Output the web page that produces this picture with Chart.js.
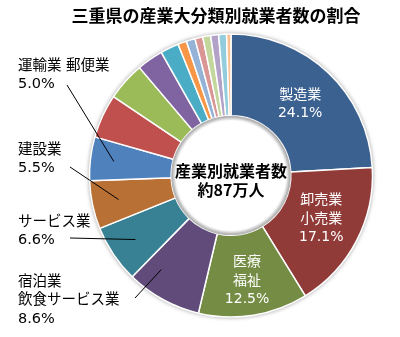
<!DOCTYPE html>
<html lang="ja">
<head>
<meta charset="utf-8">
<title>三重県の産業大分類別就業者数の割合</title>
<script src="https://cdn.jsdelivr.net/npm/chart.js@4"></script>
<style>
  html, body { margin: 0; padding: 0; background: #fff; }
  #wrap { width: 400px; height: 337px; position: relative; }
</style>
</head>
<body>
<div id="wrap"><canvas id="chart-industry" width="400" height="337"></canvas></div>
<script>
// 産業大分類（構成比の大きい順）
const industries = [
  '製造業', '卸売業，小売業', '医療，福祉', '宿泊業，飲食サービス業',
  'サービス業（他に分類されないもの）', '建設業', '運輸業，郵便業',
  '教育，学習支援業', '農業，林業', '生活関連サービス業，娯楽業', '公務',
  '学術研究，専門・技術サービス業', '分類不能の産業', '金融業，保険業',
  '不動産業，物品賃貸業', '複合サービス事業', '情報通信業', '電気・ガス・熱供給・水道業'
];
// 構成比（%）
const shares = [24.1, 17.1, 12.5, 8.6, 6.6, 5.5, 5.0, 5.0, 4.4, 3.0, 2.1, 1.0, 1.0, 0.9, 0.9, 0.9, 0.9, 0.5];
// グラフ上に表示する名称（改行区切り）
const shortNames = ['製造業', '卸売業\n小売業', '医療\n福祉', '宿泊業\n飲食サービス業', 'サービス業', '建設業', '運輸業 郵便業'];

const chartTitle = '三重県の産業大分類別就業者数の割合';
const centerText = ['産業別就業者数', '約87万人'];

// Office 標準テーマ：濃色 → 標準 → 淡色 の順
const palette = [
  '#3B6190', '#913B39', '#748C43', '#604B7A', '#388194', '#B97035',
  '#4F81BD', '#C0504D', '#9BBB59', '#8064A2', '#4BACC6', '#F79646',
  '#95B3D7', '#D99694', '#C3D69B', '#B3A2C7', '#93CDDD', '#FAC090'
];

const FONT = '"Noto Sans CJK JP", "Noto Sans", sans-serif';
// 数字は幅の広い欧文書体で
const LABEL_FONT = '"DejaVu Sans", "Noto Sans CJK JP", sans-serif';

// 扇形内のラベル（扇形の中心からのずれ）
const insideLabels = [
  { index: 0, dx: 0, dy: 2 },
  { index: 1, dx: 1, dy: -3 },
  { index: 2, dx: 0, dy: 6 }
];
// 扇形外のラベル（引き出し線つき）
const outsideLabels = [
  { index: 3, x: 18, y: 282, from: [135, 298], r: 117, t: 0.75 },
  { index: 4, x: 18, y: 222, from: [70, 238], r: 115, t: 0.5 },
  { index: 5, x: 18, y: 150, from: [70, 167], r: 115, t: 0.5 },
  { index: 6, x: 18, y: 66, from: [67, 85], r: 118, t: 0.5 }
];

function pct(v) { return v.toFixed(1) + '%'; }

// 外周と穴のふちの影
const ringShade = {
  id: 'ringShade',
  beforeDatasetsDraw(chart) {
    const arc = chart.getDatasetMeta(0).data[0];
    if (!arc) return;
    const { x, y, outerRadius, innerRadius } = arc.getProps(['x', 'y', 'outerRadius', 'innerRadius'], true);
    const ctx = chart.ctx;
    ctx.save();
    ctx.shadowColor = 'rgba(0,0,0,0.4)';
    ctx.shadowBlur = 4;
    ctx.fillStyle = '#c8c8c8';
    ctx.beginPath();
    ctx.arc(x, y, outerRadius + 0.5, 0, Math.PI * 2);
    ctx.arc(x, y, innerRadius - 0.5, 0, Math.PI * 2, true);
    ctx.fill();
    ctx.restore();
  },
  afterDatasetsDraw(chart) {
    const arc = chart.getDatasetMeta(0).data[0];
    if (!arc) return;
    const { x, y, innerRadius } = arc.getProps(['x', 'y', 'innerRadius'], true);
    const ctx = chart.ctx;
    ctx.save();
    ctx.beginPath();
    ctx.arc(x, y, innerRadius, 0, Math.PI * 2);
    ctx.clip();
    const g = ctx.createRadialGradient(x, y, innerRadius - 5, x, y, innerRadius);
    g.addColorStop(0, 'rgba(160,160,160,0)');
    g.addColorStop(1, 'rgba(150,150,150,0.75)');
    ctx.fillStyle = g;
    ctx.fillRect(x - innerRadius, y - innerRadius, innerRadius * 2, innerRadius * 2);
    ctx.restore();
  }
};

// タイトル・中央の文字・データラベル
const textLayer = {
  id: 'textLayer',
  afterDraw(chart) {
    const ctx = chart.ctx;
    const meta = chart.getDatasetMeta(0);
    const values = chart.data.datasets[0].data;
    ctx.save();
    ctx.textBaseline = 'middle';

    ctx.fillStyle = '#000';
    ctx.textAlign = 'center';
    ctx.font = 'bold 17px ' + FONT;
    ctx.fillText(chartTitle, 216, 16);

    const c = meta.data[0].getProps(['x', 'y'], true);
    ctx.font = 'bold 16px ' + FONT;
    ctx.fillText(centerText[0], c.x, c.y - 5);
    ctx.fillText(centerText[1], c.x, c.y + 14);

    ctx.font = '14px ' + LABEL_FONT;
    ctx.fillStyle = '#fff';
    insideLabels.forEach(l => {
      const arc = meta.data[l.index];
      const p = arc.tooltipPosition(true);
      const lines = shortNames[l.index].split('\n').concat(pct(values[l.index]));
      const lh = 18.5;
      const top = p.y + l.dy - (lines.length - 1) * lh / 2;
      lines.forEach((s, i) => ctx.fillText(s, p.x + l.dx, top + i * lh));
    });

    ctx.fillStyle = '#000';
    ctx.textAlign = 'left';
    ctx.font = '14.5px ' + LABEL_FONT;
    outsideLabels.forEach(l => {
      const arc = meta.data[l.index];
      const { x, y, startAngle, endAngle } = arc.getProps(['x', 'y', 'startAngle', 'endAngle'], true);
      const lines = shortNames[l.index].split('\n').concat(pct(values[l.index]));
      lines.forEach((s, i) => ctx.fillText(s, l.x, l.y + i * 18.5));
      const a = startAngle + (endAngle - startAngle) * l.t;
      ctx.strokeStyle = '#000';
      ctx.lineWidth = 1;
      ctx.beginPath();
      ctx.moveTo(l.from[0], l.from[1]);
      ctx.lineTo(x + Math.cos(a) * l.r, y + Math.sin(a) * l.r);
      ctx.stroke();
    });
    ctx.restore();
  }
};

function initChart() {
  const el = document.getElementById('chart-industry');
  if (!el || typeof Chart === 'undefined') return;
  new Chart(el, {
    type: 'doughnut',
    data: {
      labels: industries,
      datasets: [{
        data: shares,
        backgroundColor: palette,
        borderColor: '#ffffff',
        borderWidth: 1.5,
        hoverOffset: 0
      }]
    },
    options: {
      responsive: false,
      animation: false,
      radius: 141.5,
      cutout: 68,
      layout: { padding: { left: 62, top: 14, right: 0, bottom: 0 } },
      plugins: {
        legend: { display: false },
        tooltip: { enabled: false }
      }
    },
    plugins: [ringShade, textLayer]
  });
}

document.addEventListener('DOMContentLoaded', initChart);
</script>
</body>
</html>
